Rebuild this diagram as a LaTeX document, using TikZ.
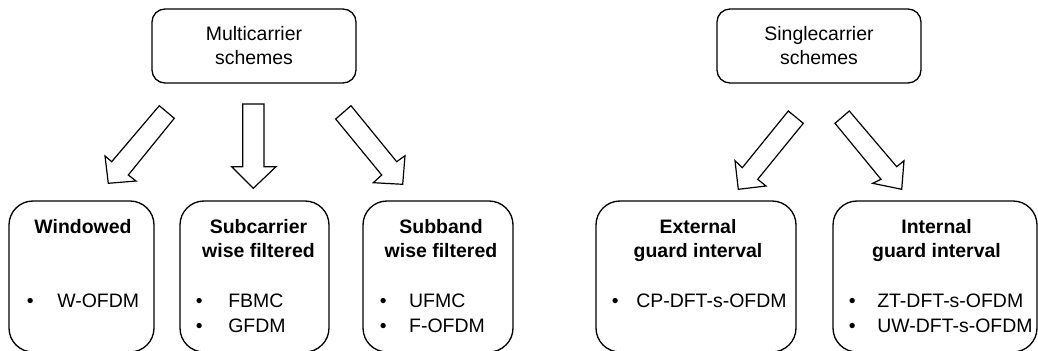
\documentclass[tikz,border=0pt]{standalone}
\usepackage{fontspec}
\setmainfont{Liberation Sans}
\usetikzlibrary{positioning}
\newcommand{\itm}[2]{\makebox[#1][l]{\textbullet}#2}
\tikzset{%
    topbox/.style={draw,line width=1pt,rounded corners=9.75pt,minimum width=153pt,minimum height=55.5pt,align=center,font=\fontsize{14.6}{18}\selectfont},
    botbox/.style={draw,line width=1pt,rounded corners=18pt,minimum height=113.25pt},
    ttl/.style={inner sep=0pt,anchor=north,align=center,font=\fontsize{14.6}{18}\selectfont\bfseries},
    lst/.style={inner sep=0pt,anchor=north west,align=left,font=\fontsize{14.6}{18.75}\selectfont},
    fat/.style={draw,line width=0.9pt,line join=miter,fill=white}
}
\begin{document}
\begin{tikzpicture}[x=0.75pt,y=-0.75pt]
            \useasboundingbox (0,0) rectangle (1038,350);
            \clip (0,0) rectangle (1038,350);
            % top boxes
            \node[topbox] (mc) at (254,46) {Multicarrier\\schemes};
            \node[topbox] (sc) at (819,46) {Singlecarrier\\schemes};

            % bottom boxes
            \node[botbox,minimum width=108.75pt] (win) at (81.5,276.5){};
            \node[botbox,minimum width=111.75pt] (sub) at (254.5,276.5){};
            \node[botbox,minimum width=112.5pt] (band) at (438,276.5){};
            \node[botbox,minimum width=150pt] (ext) at (696,276.5){};
            \node[botbox,minimum width=153pt] (int) at (935,276.5){};

            \node[ttl] (wint) at (83,219) {Windowed};
            \node[ttl] (subt) at (258.5,219) {Subcarrier\\wise filtered};
            \node[ttl] (bandt) at (441,219) {Subband\\wise filtered};
            \node[ttl] (extt) at (698,219) {External\\guard interval};
            \node[ttl] (intt) at (936.5,219) {Internal\\guard interval};

            \node[lst] (winl) at (26.6,294) {\itm{22.8pt}{W-OFDM}};
            \node[lst] (subl) at (195.6,294) {\itm{24.3pt}{FBMC}\\\itm{24.3pt}{GFDM}};
            \node[lst] (bandl) at (379.6,294) {\itm{22pt}{UFMC}\\\itm{22pt}{F-OFDM}};
            \node[lst] (extl) at (611.6,294) {\itm{18.3pt}{CP-DFT-s-OFDM}};
            \node[lst] (intl) at (848.6,294) {\itm{21.3pt}{ZT-DFT-s-OFDM}\\\itm{21.3pt}{UW-DFT-s-OFDM}};

            % block arrows
            \draw[fat] (159.3,105.7) -- (174.3,118.3) -- (128.3,175) -- (136,181) -- (108.3,183.3) -- (105,156) -- (111.7,161.7) -- cycle;
            \draw[fat] (242.7,104) -- (264,104) -- (264,166.7) -- (276,166.7) -- (253.3,188.3) -- (231.7,166.7) -- (242.7,166.7) -- cycle;
            \draw[fat] (351,105.7) -- (335.7,119) -- (381.7,175) -- (373.3,182.7) -- (402.7,184.3) -- (405,155.7) -- (396.7,161.7) -- cycle;
            \draw[fat] (788.3,111) -- (803.3,123.3) -- (757.7,179.3) -- (766,186) -- (738.3,189.3) -- (735,160.7) -- (742.3,167.7) -- cycle;
            \draw[fat] (849.3,111) -- (835,123.3) -- (881,179.3) -- (872.7,183.3) -- (901.7,189.3) -- (904,160.7) -- (896.7,166.7) -- cycle;
        \end{tikzpicture}
\end{document}
